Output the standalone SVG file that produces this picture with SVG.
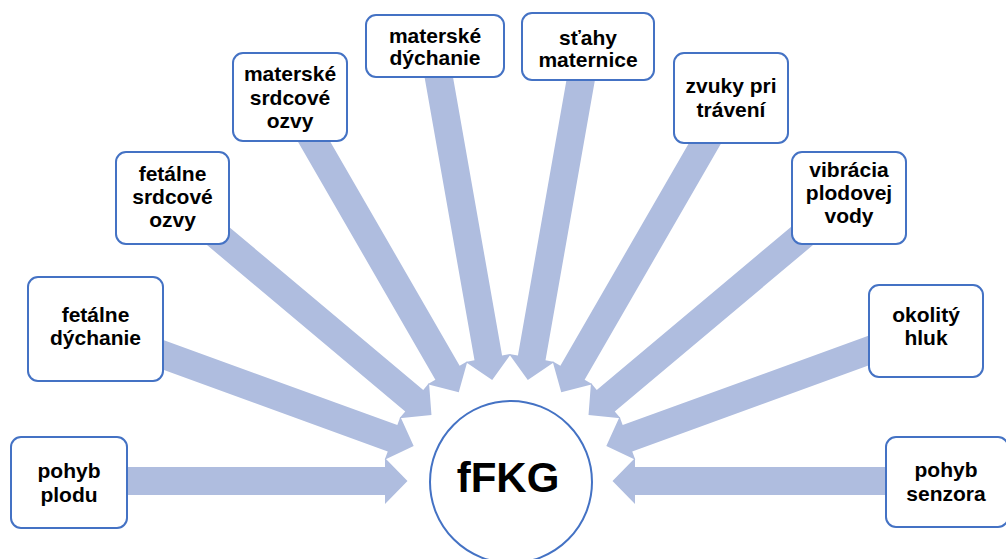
<svg xmlns="http://www.w3.org/2000/svg" width="1006" height="559" viewBox="0 0 1006 559">
<defs>
<style>
.box{fill:#ffffff;stroke:#4472C4;stroke-width:2}
.arr{fill:#AFBDDF}
.t{font-family:"Liberation Sans",Arial,sans-serif;font-weight:bold;font-size:21px;fill:#000;text-anchor:middle}
.c{font-family:"Liberation Sans",Arial,sans-serif;font-weight:bold;font-size:42px;fill:#000;text-anchor:middle}
</style>
<polygon id="a" points="-442,-14 -125,-14 -125,-23 -102.5,0 -125,23 -125,14 -442,14"/>
</defs>
<rect width="1006" height="559" fill="#ffffff"/>
<g id="connectors" class="arr">
<use href="#a" transform="translate(510,481) rotate(0)"/>
<use href="#a" transform="translate(510,481) rotate(20)"/>
<use href="#a" transform="translate(510,481) rotate(40)"/>
<use href="#a" transform="translate(510,481) rotate(60)"/>
<use href="#a" transform="translate(510,481) rotate(80)"/>
<use href="#a" transform="translate(510,481) rotate(100)"/>
<use href="#a" transform="translate(510,481) rotate(120)"/>
<use href="#a" transform="translate(510,481) rotate(140)"/>
<use href="#a" transform="translate(510,481) rotate(160)"/>
<use href="#a" transform="translate(510,481) rotate(180)"/>
</g>
<g id="center">
<circle class="box" cx="511" cy="482" r="81"/>
<text class="c" x="508" y="492">fFKG</text>
</g>
<g id="n1">
<rect class="box" x="11" y="437" width="116" height="91" rx="10"/>
<text class="t" x="69" y="478">pohyb</text>
<text class="t" x="69" y="501.5">plodu</text>
</g>
<g id="n2">
<rect class="box" x="28" y="277" width="135" height="104" rx="10"/>
<text class="t" x="95.5" y="322">fetálne</text>
<text class="t" x="95.5" y="344.5">dýchanie</text>
</g>
<g id="n3">
<rect class="box" x="116" y="152" width="113" height="92" rx="10"/>
<text class="t" x="172.5" y="180.5">fetálne</text>
<text class="t" x="172.5" y="203.5">srdcové</text>
<text class="t" x="172.5" y="226.5">ozvy</text>
</g>
<g id="n4">
<rect class="box" x="233" y="53" width="114" height="88" rx="10"/>
<text class="t" x="290" y="81">materské</text>
<text class="t" x="290" y="104.5">srdcové</text>
<text class="t" x="290" y="127.5">ozvy</text>
</g>
<g id="n5">
<rect class="box" x="366" y="15" width="138" height="62" rx="10"/>
<text class="t" x="435" y="42.5">materské</text>
<text class="t" x="435" y="64.5">dýchanie</text>
</g>
<g id="n6">
<rect class="box" x="522" y="13" width="132" height="67" rx="10"/>
<text class="t" x="588" y="45">sťahy</text>
<text class="t" x="588" y="67">maternice</text>
</g>
<g id="n7">
<rect class="box" x="674" y="53" width="114" height="90" rx="10"/>
<text class="t" x="731" y="93">zvuky pri</text>
<text class="t" x="731" y="116.5">trávení</text>
</g>
<g id="n8">
<rect class="box" x="792" y="152" width="114" height="92" rx="10"/>
<text class="t" x="849" y="176.5">vibrácia</text>
<text class="t" x="849" y="199.5">plodovej</text>
<text class="t" x="849" y="222.5">vody</text>
</g>
<g id="n9">
<rect class="box" x="869" y="285" width="114" height="92" rx="10"/>
<text class="t" x="926" y="322">okolitý</text>
<text class="t" x="926" y="344.5">hluk</text>
</g>
<g id="n10">
<rect class="box" x="886" y="437" width="122" height="90" rx="10"/>
<text class="t" x="946" y="477">pohyb</text>
<text class="t" x="946" y="501">senzora</text>
</g>
</svg>
